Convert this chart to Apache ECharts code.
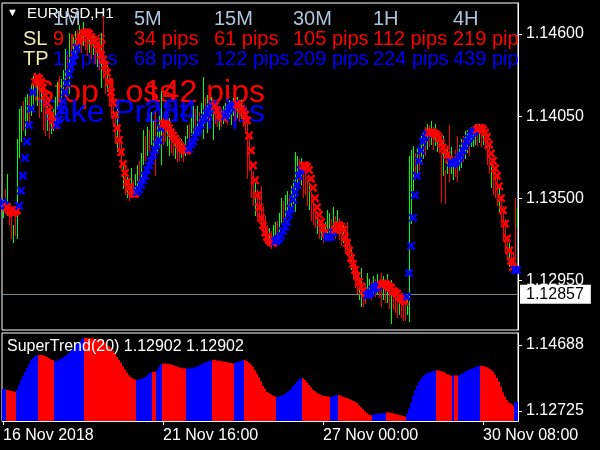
<!DOCTYPE html>
<html><head><meta charset="utf-8">
<script src="https://cdn.jsdelivr.net/npm/echarts@6/dist/echarts.min.js"></script>
<style>html,body{margin:0;padding:0;background:#000}#c{width:600px;height:450px}</style>
</head><body><div id="c"></div><script>
// ---------- data ----------
const xTickIdx = [0, 80, 160, 240];
const xTickLabels = ['16 Nov 2018', '21 Nov 16:00', '27 Nov 00:00', '30 Nov 08:00'];
const priceTicks = [1.146, 1.1405, 1.135, 1.1295];
const stTicks = [1.14688, 1.12725];
const lastPrice = 1.12857;

const lows = [1.1337,1.1340,1.1338,1.1332,1.1323,1.1320,1.1325,1.1323,1.1377,1.1388,
1.1395,1.1392,1.1402,1.1400,1.1405,1.1410,1.1415,1.1412,1.1404,1.1408,
1.1396,1.1392,1.1395,1.1390,1.1393,1.1395,1.1400,1.1410,1.1412,1.1415,
1.1420,1.1425,1.1430,1.1420,1.1440,1.1443,1.1445,1.1448,1.1450,1.1447,
1.1452,1.1449,1.1445,1.1447,1.1443,1.1446,1.1440,1.1438,1.1436,1.1424,
1.1430,1.1420,1.1421,1.1412,1.1405,1.1398,1.1388,1.1381,1.1378,1.1370,
1.1356,1.1352,1.1350,1.1348,1.1352,1.1350,1.1352,1.1355,1.1360,1.1362,
1.1372,1.1375,1.1378,1.1380,1.1386,1.1382,1.1365,1.1380,1.1385,1.1372,
1.1386,1.1388,1.1385,1.1378,1.1380,1.1378,1.1376,1.1374,1.1375,1.1377,
1.1374,1.1378,1.1390,1.1388,1.1392,1.1392,1.1396,1.1398,1.1395,1.1400,
1.1390,1.1404,1.1394,1.1402,1.1405,1.1389,1.1400,1.1398,1.1396,1.1398,
1.1400,1.1402,1.1399,1.1403,1.1399,1.1405,1.1402,1.1404,1.1401,1.1403,
1.1398,1.1395,1.1363,1.1368,1.1350,1.1345,1.1338,1.1336,1.1335,1.1332,
1.1327,1.1320,1.1318,1.1318,1.1316,1.1318,1.1320,1.1322,1.1326,1.1332,
1.1334,1.1336,1.1340,1.1338,1.1344,1.1346,1.1341,1.1360,1.1362,1.1359,
1.1350,1.1352,1.1345,1.1342,1.1335,1.1332,1.1330,1.1326,1.1323,1.1322,
1.1320,1.1322,1.1322,1.1324,1.1322,1.1325,1.1323,1.1326,1.1322,1.1318,
1.1320,1.1314,1.1312,1.1306,1.1302,1.1296,1.1290,1.1286,1.1282,1.1277,
1.1277,1.1279,1.1284,1.1283,1.1282,1.1286,1.1284,1.1285,1.1283,1.1277,
1.1282,1.1280,1.1280,1.1276,1.1266,1.1275,1.1273,1.1270,1.1272,1.1270,
1.1268,1.1268,1.1272,1.1267,1.1333,1.1355,1.1362,1.1366,1.1368,1.1372,
1.1376,1.1378,1.1382,1.1384,1.1386,1.1382,1.1385,1.1381,1.1380,1.1347,
1.1365,1.1346,1.1366,1.1361,1.1366,1.1362,1.1364,1.1361,1.1368,1.1370,
1.1374,1.1376,1.1380,1.1378,1.1384,1.1384,1.1386,1.1385,1.1387,1.1384,
1.1386,1.1382,1.1372,1.1366,1.1357,1.1352,1.1350,1.1345,1.1340,1.1332,
1.1322,1.1314,1.1308,1.1304,1.1302,1.1300,1.1305,1.1330];

const highs = [1.1349,1.1356,1.1366,1.1347,1.1341,1.1332,1.1345,1.1390,1.1410,1.1412,
1.1415,1.1418,1.1420,1.1419,1.1426,1.1432,1.1434,1.1428,1.1425,1.1424,
1.1418,1.1410,1.1412,1.1408,1.1406,1.1410,1.1418,1.1428,1.1432,1.1430,
1.1436,1.1450,1.1446,1.1461,1.1455,1.1458,1.1462,1.1463,1.1466,1.1462,
1.1468,1.1464,1.1460,1.1463,1.1458,1.1461,1.1456,1.1452,1.1453,1.1461,
1.1472,1.1440,1.1439,1.1432,1.1424,1.1418,1.1408,1.1410,1.1398,1.1388,
1.1372,1.1370,1.1366,1.1362,1.1370,1.1362,1.1366,1.1372,1.1375,1.1380,
1.1396,1.1392,1.1398,1.1396,1.1408,1.1402,1.1408,1.1400,1.1405,1.1422,
1.1404,1.1402,1.1400,1.1404,1.1398,1.1395,1.1392,1.1390,1.1388,1.1390,
1.1388,1.1392,1.1399,1.1400,1.1404,1.1412,1.1410,1.1412,1.1408,1.1414,
1.1431,1.1418,1.1419,1.1416,1.1418,1.1412,1.1414,1.1410,1.1408,1.1410,
1.1412,1.1414,1.1411,1.1416,1.1414,1.1417,1.1415,1.1418,1.1413,1.1416,
1.1412,1.1408,1.1405,1.1392,1.1375,1.1368,1.1360,1.1356,1.1352,1.1358,
1.1345,1.1338,1.1332,1.1330,1.1328,1.1332,1.1334,1.1335,1.1340,1.1350,
1.1348,1.1352,1.1355,1.1352,1.1358,1.1362,1.1381,1.1378,1.1376,1.1377,
1.1370,1.1372,1.1365,1.1360,1.1354,1.1350,1.1345,1.1340,1.1334,1.1334,
1.1330,1.1334,1.1342,1.1340,1.1336,1.1344,1.1338,1.1342,1.1337,1.1334,
1.1332,1.1330,1.1334,1.1322,1.1316,1.1312,1.1306,1.1302,1.1296,1.1303,
1.1290,1.1293,1.1300,1.1296,1.1294,1.1298,1.1296,1.1299,1.1295,1.1300,
1.1298,1.1294,1.1299,1.1292,1.1295,1.1290,1.1288,1.1290,1.1286,1.1284,
1.1283,1.1284,1.1286,1.1378,1.1382,1.1385,1.1380,1.1384,1.1383,1.1392,
1.1394,1.1398,1.1400,1.1399,1.1402,1.1398,1.1400,1.1396,1.1395,1.1394,
1.1392,1.1369,1.1385,1.1399,1.1384,1.1376,1.1382,1.1392,1.1386,1.1390,
1.1392,1.1395,1.1396,1.1394,1.1398,1.1397,1.1400,1.1398,1.1400,1.1397,
1.1398,1.1396,1.1390,1.1386,1.1377,1.1378,1.1370,1.1364,1.1358,1.1352,
1.1345,1.1336,1.1325,1.1320,1.1316,1.1314,1.1350,1.1343];

// candle direction per bar: u = bullish, d = bearish (10 bars per group)
const candleDirGroups = ['ududduduuu','duuduududu','dduduuuudu','uududuudud','uddudududu',
'dduddddudd','udududuudu','ududuuduuu','dduudduddu','duuduududu',
'ududuuddud','uuduuududu','dddddduddd','ddduduuduu','duuduuuudu',
'dddudddudu','duuudududd','uddduddduu','dduudududd','udududddud',
'dduuuududu','udududuudd','ududuudduu','duuduuudud','udddudddud','dddudddu'];

const markerVals = [1.1347,1.1345,1.1344,1.1342,1.1341,1.1340,1.1341,1.1342,1.1345,1.1355,
1.1365,1.1377,1.1388,1.1399,1.1410,1.1421,1.1428,1.1431,1.1430,1.1428,
1.1424,1.1419,1.1414,1.1409,1.1405,1.1402,1.1399,1.1399,1.1403,1.1409,
1.1415,1.1421,1.1427,1.1433,1.1438,1.1442,1.1446,1.1451,1.1455,1.1458,
1.1460,1.1461,1.1461,1.1460,1.1458,1.1456,1.1455,1.1453,1.1450,1.1446,
1.1443,1.1439,1.1434,1.1428,1.1421,1.1414,1.1406,1.1397,1.1389,1.1381,
1.1373,1.1367,1.1361,1.1357,1.1355,1.1353,1.1353,1.1354,1.1356,1.1359,
1.1362,1.1365,1.1369,1.1372,1.1375,1.1379,1.1382,1.1386,1.1389,1.1397,
1.1400,1.1400,1.1399,1.1397,1.1394,1.1392,1.1390,1.1388,1.1386,1.1384,
1.1383,1.1382,1.1382,1.1383,1.1386,1.1388,1.1391,1.1394,1.1396,1.1399,
1.1402,1.1404,1.1407,1.1409,1.1411,1.1413,1.1412,1.1409,1.1406,1.1405,
1.1404,1.1405,1.1407,1.1409,1.1411,1.1412,1.1413,1.1413,1.1412,1.1410,
1.1408,1.1406,1.1402,1.1392,1.1382,1.1372,1.1362,1.1352,1.1344,1.1337,
1.1332,1.1327,1.1324,1.1322,1.1321,1.1320,1.1321,1.1322,1.1323,1.1325,
1.1328,1.1331,1.1334,1.1339,1.1343,1.1349,1.1354,1.1359,1.1365,1.1369,
1.1372,1.1372,1.1371,1.1369,1.1363,1.1357,1.1350,1.1344,1.1339,1.1334,
1.1330,1.1327,1.1324,1.1324,1.1324,1.1327,1.1329,1.1331,1.1332,1.1331,
1.1329,1.1324,1.1320,1.1315,1.1310,1.1306,1.1302,1.1298,1.1294,1.1291,
1.1288,1.1286,1.1285,1.1286,1.1287,1.1289,1.1290,1.1291,1.1292,1.1292,
1.1293,1.1293,1.1292,1.1291,1.1290,1.1288,1.1287,1.1286,1.1284,1.1283,
1.1282,1.1281,1.1284,1.1300,1.1318,1.1337,1.1352,1.1365,1.1375,1.1382,
1.1388,1.1391,1.1393,1.1394,1.1394,1.1394,1.1393,1.1392,1.1390,1.1387,
1.1384,1.1382,1.1379,1.1376,1.1374,1.1373,1.1374,1.1375,1.1377,1.1379,
1.1382,1.1385,1.1388,1.1390,1.1392,1.1394,1.1395,1.1396,1.1397,1.1397,
1.1396,1.1394,1.1391,1.1386,1.1380,1.1375,1.1370,1.1365,1.1358,1.1350,
1.1342,1.1333,1.1323,1.1315,1.1308,1.1304,1.1302,1.1302];
// trend of the marker line, run lengths: [bars, 'r' down / 'b' up]
const markerTrendRuns = [[2,'b'],[6,'r'],[8,'b'],[11,'r'],[11,'b'],[29,'r'],[13,'b'],[13,'r'],[13,'b'],[5,'r'],[6,'b'],[19,'r'],[14,'b'],[12,'r'],[4,'b'],[16,'r'],[7,'b'],[13,'r'],[11,'b'],[11,'r'],[13,'b'],[19,'r'],[2,'b']];

const stVals = [1.1338,1.1338,1.1335,1.1334,1.1333,1.1331,1.1330,1.1336,1.1350,1.1365,
1.1377,1.1389,1.1401,1.1412,1.1424,1.1430,1.1436,1.1439,1.1439,1.1439,
1.1438,1.1436,1.1433,1.1430,1.1426,1.1424,1.1421,1.1423,1.1426,1.1428,
1.1432,1.1436,1.1440,1.1446,1.1452,1.1459,1.1466,1.1472,1.1477,1.1483,
1.1489,1.1490,1.1490,1.1490,1.1489,1.1488,1.1487,1.1486,1.1485,1.1483,
1.1480,1.1476,1.1471,1.1466,1.1460,1.1452,1.1443,1.1434,1.1425,1.1415,
1.1405,1.1396,1.1387,1.1379,1.1373,1.1369,1.1366,1.1365,1.1366,1.1368,
1.1371,1.1374,1.1378,1.1383,1.1388,1.1389,1.1389,1.1395,1.1404,1.1412,
1.1414,1.1414,1.1413,1.1412,1.1411,1.1409,1.1407,1.1405,1.1403,1.1401,
1.1400,1.1399,1.1399,1.1399,1.1400,1.1401,1.1403,1.1405,1.1408,1.1411,
1.1414,1.1417,1.1419,1.1421,1.1423,1.1424,1.1424,1.1423,1.1422,1.1421,
1.1420,1.1419,1.1418,1.1416,1.1415,1.1414,1.1415,1.1418,1.1420,1.1422,
1.1424,1.1424,1.1421,1.1417,1.1411,1.1404,1.1394,1.1384,1.1372,1.1360,
1.1347,1.1338,1.1330,1.1326,1.1322,1.1319,1.1316,1.1315,1.1316,1.1318,
1.1320,1.1324,1.1328,1.1333,1.1339,1.1346,1.1353,1.1360,1.1366,1.1370,
1.1370,1.1365,1.1358,1.1350,1.1343,1.1336,1.1331,1.1327,1.1323,1.1320,
1.1318,1.1317,1.1316,1.1315,1.1315,1.1317,1.1319,1.1320,1.1320,1.1318,
1.1315,1.1313,1.1311,1.1308,1.1305,1.1303,1.1300,1.1296,1.1290,1.1284,
1.1278,1.1272,1.1266,1.1262,1.1260,1.1262,1.1263,1.1264,1.1265,1.1265,
1.1266,1.1266,1.1269,1.1268,1.1267,1.1266,1.1264,1.1263,1.1261,1.1260,
1.1258,1.1256,1.1264,1.1280,1.1298,1.1318,1.1335,1.1348,1.1360,1.1368,
1.1375,1.1380,1.1385,1.1387,1.1389,1.1391,1.1393,1.1394,1.1393,1.1391,
1.1389,1.1387,1.1382,1.1380,1.1378,1.1378,1.1378,1.1378,1.1379,1.1382,
1.1385,1.1389,1.1392,1.1395,1.1398,1.1400,1.1403,1.1405,1.1407,1.1407,
1.1406,1.1405,1.1403,1.1399,1.1395,1.1390,1.1381,1.1371,1.1360,1.1345,
1.1328,1.1316,1.1305,1.1298,1.1294,1.1290,1.1298,1.1300];
const stTrendRuns = [[2,'b'],[5,'r'],[11,'b'],[8,'r'],[15,'b'],[26,'r'],[8,'b'],[2,'r'],[3,'b'],[12,'r'],[13,'b'],[11,'r'],[5,'b'],[16,'r'],[13,'b'],[14,'r'],[4,'b'],[17,'r'],[7,'b'],[10,'r'],[15,'b'],[8,'r'],[1,'b'],[2,'r'],[11,'b'],[17,'r'],[2,'b']];

const symbolTitle = 'EURUSD,H1';
const timeframes = ['1M', '5M', '15M', '30M', '1H', '4H'];
const slPips = ['9 pips', '34 pips', '61 pips', '105 pips', '112 pips', '219 pips'];
const tpPips = ['19 pips', '68 pips', '122 pips', '209 pips', '224 pips', '439 pips'];
const bigSL = ['Stop Loss', '142 pips'];
const bigTP = ['Take Profit', '284 pips'];
const stTitle = 'SuperTrend(20) 1.12902 1.12902';

// ---------- build ----------
const N = lows.length;
const cats = Array.from({length: N}, (_, i) => String(i));
const candleDir = candleDirGroups.join('');
const expand = runs => runs.reduce((a, [n, c]) => a.concat(Array(n).fill(c)), []);
const markerTrend = expand(markerTrendRuns);
const stTrend = expand(stTrendRuns);
const RED = '#ff0000', BLUE = '#0000ff', GREEN = '#00ff00';
const FONT = '"Liberation Sans", Arial, sans-serif';
const colX = [53, 134, 214, 293, 373, 453];
const panelRight = 518;

const txt = (text, x, y, fill, size, extra) => ({
  type: 'text', x, y, z: 1, silent: true,
  style: Object.assign({text, fill, font: size + 'px ' + FONT, verticalAlign: 'middle'}, extra || {})
});
const clipLast = (k) => k === colX.length - 1 ? {width: 72, overflow: 'truncate', ellipsis: ''} : {};

const graphic = [
  txt('\u25BC', 7, 13, '#ffffff', 11),
  txt(symbolTitle, 27, 14, '#ffffff', 15),
  ...timeframes.map((t, k) => txt(t, colX[k], 19, '#b0c4de', 20)),
  txt('SL', 23, 39, '#eee8aa', 20),
  txt('TP', 23, 59, '#eee8aa', 20),
  ...slPips.map((t, k) => txt(t, colX[k], 39, RED, 20, clipLast(k))),
  ...tpPips.map((t, k) => txt(t, colX[k], 59, BLUE, 20, clipLast(k))),
  txt(bigSL[0], 33, 93, RED, 32),
  txt(bigSL[1], 144, 93, RED, 32),
  txt(bigTP[0], 37, 113, BLUE, 32),
  txt(bigTP[1], 144, 113, BLUE, 32),
  Object.assign(txt(stTitle, 7, 347, '#ffffff', 16), {z: 20})
];

const chart = echarts.init(document.getElementById('c'), null, {renderer: 'canvas'});
chart.setOption({
  backgroundColor: '#000000',
  animation: false,
  graphic,
  grid: [
    {left: 2, right: 600 - panelRight, top: 3, bottom: 120, show: true, borderColor: '#ffffff', borderWidth: 1, backgroundColor: 'transparent'},
    {left: 2, right: 600 - panelRight, top: 333, bottom: 29, show: true, borderColor: '#ffffff', borderWidth: 1, backgroundColor: 'transparent'}
  ],
  xAxis: [
    {type: 'category', gridIndex: 0, data: cats, boundaryGap: true, axisLine: {show: false}, axisTick: {show: false}, axisLabel: {show: false}, splitLine: {show: false}},
    {type: 'category', gridIndex: 1, data: cats, boundaryGap: true,
     axisLine: {show: true, lineStyle: {color: '#ffffff'}},
     axisTick: {show: true, alignWithLabel: true, length: 4, interval: (i) => xTickIdx.includes(i), lineStyle: {color: '#ffffff'}},
     axisLabel: {show: true, interval: (i) => xTickIdx.includes(i), formatter: (v, i) => xTickLabels[xTickIdx.indexOf(Number(v))] || '', align: 'left', color: '#ffffff', fontSize: 16, fontFamily: FONT, margin: 7},
     splitLine: {show: false}}
  ],
  yAxis: [
    {type: 'value', gridIndex: 0, position: 'right', min: 1.126179, max: 1.148076, scale: true,
     axisLine: {show: true, lineStyle: {color: '#ffffff'}},
     axisTick: {show: true, length: 4, customValues: priceTicks, lineStyle: {color: '#ffffff'}},
     axisLabel: {show: true, customValues: priceTicks, formatter: v => v.toFixed(5), color: '#ffffff', fontSize: 16, fontFamily: FONT, margin: 8},
     splitLine: {show: false}},
    {type: 'value', gridIndex: 1, position: 'right', min: 1.12428, max: 1.15045, scale: true,
     axisLine: {show: true, lineStyle: {color: '#ffffff'}},
     axisTick: {show: true, length: 4, customValues: stTicks, lineStyle: {color: '#ffffff'}},
     axisLabel: {show: true, customValues: stTicks, formatter: v => v.toFixed(5), color: '#ffffff', fontSize: 16, fontFamily: FONT, margin: 8},
     splitLine: {show: false}}
  ],
  series: [
    {
      type: 'custom', xAxisIndex: 0, yAxisIndex: 0, z: 3, silent: true, clip: true,
      data: lows.map((l, i) => [i, l, highs[i]]),
      encode: {x: 0, y: [1, 2]},
      renderItem: (params, api) => {
        const i = api.value(0);
        const pLo = api.coord([i, api.value(1)]);
        const pHi = api.coord([i, api.value(2)]);
        const x = Math.floor(pLo[0]) + 0.5;
        return {type: 'line', shape: {x1: x, y1: Math.round(pLo[1]), x2: x, y2: Math.round(pHi[1])},
                style: {stroke: candleDir[i] === 'u' ? GREEN : RED, lineWidth: 1, fill: null, opacity: 1}};
      }
    },
    {
      type: 'scatter', xAxisIndex: 0, yAxisIndex: 0, z: 4, silent: true,
      symbol: 'path://M0,2L2,0L5,3L8,0L10,2L7,5L10,8L8,10L5,7L2,10L0,8L3,5Z',
      symbolSize: [9, 9],
      data: markerVals.map((v, i) => [i, v]),
      itemStyle: {color: p => markerTrend[p.dataIndex] === 'b' ? BLUE : RED, opacity: 1},
      markLine: {
        silent: true, symbol: 'none', z: 2, precision: 5,
        lineStyle: {color: '#778899', width: 1, type: 'solid'},
        label: {show: true, position: 'end', distance: 2, formatter: () => lastPrice.toFixed(5),
                color: '#000000', backgroundColor: '#ffffff', fontSize: 16, fontFamily: FONT, lineHeight: 16, padding: [2, 7, 1, 6]},
        data: [{yAxis: lastPrice}]
      }
    },
    {
      type: 'bar', xAxisIndex: 1, yAxisIndex: 1, silent: true, clip: true,
      barCategoryGap: '0%', barGap: '0%',
      data: stVals.map((v, i) => ({value: v, itemStyle: {color: stTrend[i] === 'b' ? BLUE : RED}}))
    }
  ]
});
</script></body></html>
